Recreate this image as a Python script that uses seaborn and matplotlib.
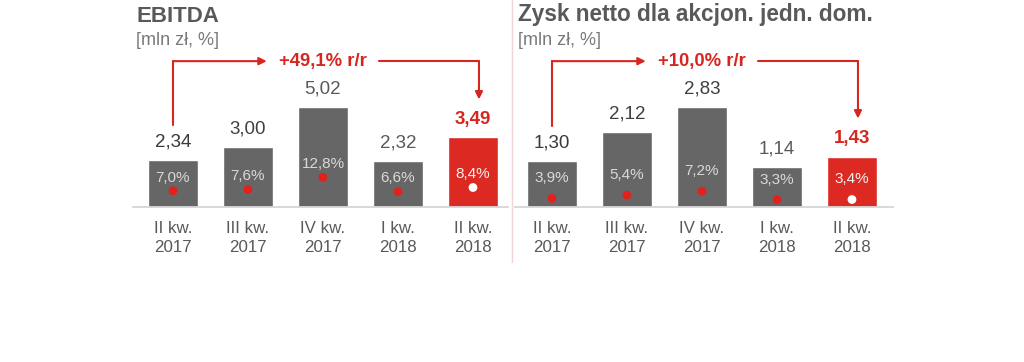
import pandas as pd
import matplotlib.pyplot as plt
import seaborn as sns
from matplotlib.lines import Line2D

# data
quarters = ['II kw.\n2017', 'III kw.\n2017', 'IV kw.\n2017', 'I kw.\n2018', 'II kw.\n2018']
ebitda = [2.34, 3.00, 5.02, 2.32, 3.49]
ebitda_margin = [7.0, 7.6, 12.8, 6.6, 8.4]
net_profit = [1.30, 2.12, 2.83, 1.14, 1.43]
net_margin = [3.9, 5.4, 7.2, 3.3, 3.4]
ebitda_yoy = '+49,1% r/r'
net_yoy = '+10,0% r/r'

RED = '#d7261f'
BAR_RED = '#dc2a22'
GRAY = '#666666'
TITLE_GRAY = '#595959'

sns.set_style('white')
plt.rcParams['font.family'] = ['Liberation Sans', 'DejaVu Sans']

W, H = 1024, 362
fig = plt.figure(figsize=(W / 100, H / 100), dpi=100)


def fmt(v, dec=2):
    return f'{v:.{dec}f}'.replace('.', ',')


def panel(rect_px, values, margins, yoy, ymax, mmax, xlim, pct_off, label_colors):
    x0, x1 = rect_px
    ax = fig.add_axes([x0 / W, (H - 207) / H, (x1 - x0) / W, 187 / H])
    df = pd.DataFrame({'q': quarters, 'v': values})
    colors = [GRAY] * (len(values) - 1) + [BAR_RED]
    sns.barplot(data=df, x='q', y='v', hue='q', palette=colors, legend=False,
                width=0.66, saturation=1, ax=ax)
    ax.set_xlim(*xlim)
    ax.set_ylim(0, ymax)
    ax.set_xlabel('')
    ax.set_ylabel('')
    ax.set_yticks([])
    ax.set_xticks(range(len(quarters)))
    ax.set_xticklabels(quarters, linespacing=1.38, fontsize=12.2, color=TITLE_GRAY)
    ax.tick_params(axis='x', length=0, pad=10)
    for s in ['left', 'right', 'top']:
        ax.spines[s].set_visible(False)
    ax.spines['bottom'].set_color('#d6d6d6')
    ax.spines['bottom'].set_linewidth(1.3)

    ppu = 187 / ymax  # pixels per unit
    n = len(values)
    # value labels above bars
    for i, v in enumerate(values):
        last = i == n - 1
        ax.annotate(fmt(v), (i, v), xytext=(0, 13), textcoords='offset points',
                    ha='center', va='center', fontsize=13.5,
                    fontweight='bold' if last else 'normal',
                    color=RED if last else label_colors[i])

    # margin dots on a twin axis
    ax2 = ax.twinx()
    ax2.set_ylim(0, mmax)
    ax2.set_xlim(*xlim)
    ax2.axis('off')
    dot_colors = ['#e3211c'] * (n - 1) + ['white']
    ax2.scatter(range(n), margins, s=40, c=dot_colors, zorder=5, linewidths=0)
    for i, m in enumerate(margins):
        ax2.annotate(fmt(m, 1) + '%', (i, m), xytext=(0, pct_off),
                     textcoords='offset points', ha='center', va='center',
                     fontsize=11, color='#f2f2f2' if i == n - 1 else '#d9d9d9')

    # y/y arrow
    yh = 0.78 * ymax
    y_start = values[0] + 35 / ppu
    y_tip = values[-1] + 38 / ppu
    xe = n - 1 + 0.08
    ax.plot([0, 0], [y_start, yh], color=RED, lw=1.5, clip_on=False)
    ax.annotate('', xy=(2 - 0.75, yh), xytext=(0, yh),
                arrowprops=dict(arrowstyle='-|>', color=RED, lw=1.5,
                                mutation_scale=11, shrinkA=0, shrinkB=0),
                annotation_clip=False)
    ax.plot([2 + 0.75, xe], [yh, yh], color=RED, lw=1.5, clip_on=False)
    ax.annotate('', xy=(xe, y_tip), xytext=(xe, yh),
                arrowprops=dict(arrowstyle='-|>', color=RED, lw=1.5,
                                mutation_scale=11, shrinkA=0, shrinkB=0),
                annotation_clip=False)
    ax.text(2, yh, yoy, ha='center', va='center', fontsize=13.3,
            fontweight='bold', color=RED)
    return ax


panel((133, 508), ebitda, ebitda_margin, ebitda_yoy, 187 / 19.92, 187 / 2.32,
      (-0.533, 4.467), 9.5, ['#3a3a3a', '#404040', '#5a5a5a', '#5a5a5a', RED])
panel((515, 893), net_profit, net_margin, net_yoy, 187 / 35.3, 187 / 2.2,
      (-0.493, 4.547), 14.5, ['#3a3a3a', '#404040', '#404040', '#5a5a5a', RED])

# titles
fig.text(136 / W, 1 - 21.5 / H, 'EBITDA', fontsize=16, fontweight='bold',
         color=TITLE_GRAY, va='baseline')
fig.text(136 / W, 1 - 45 / H, '[mln zł, %]', fontsize=13, color='#7a7a7a',
         va='baseline')
fig.text(518 / W, 1 - 21.5 / H, 'Zysk netto dla akcjon. jedn. dom.', fontsize=16.3,
         fontweight='bold', color=TITLE_GRAY, va='baseline')
fig.text(518 / W, 1 - 45 / H, '[mln zł, %]', fontsize=13, color='#7a7a7a',
         va='baseline')

# separator between panels
fig.add_artist(Line2D([512 / W, 512 / W], [1, 1 - 262 / H], color='#ecd6d6', lw=1))

fig.savefig('out.png', dpi=100)
